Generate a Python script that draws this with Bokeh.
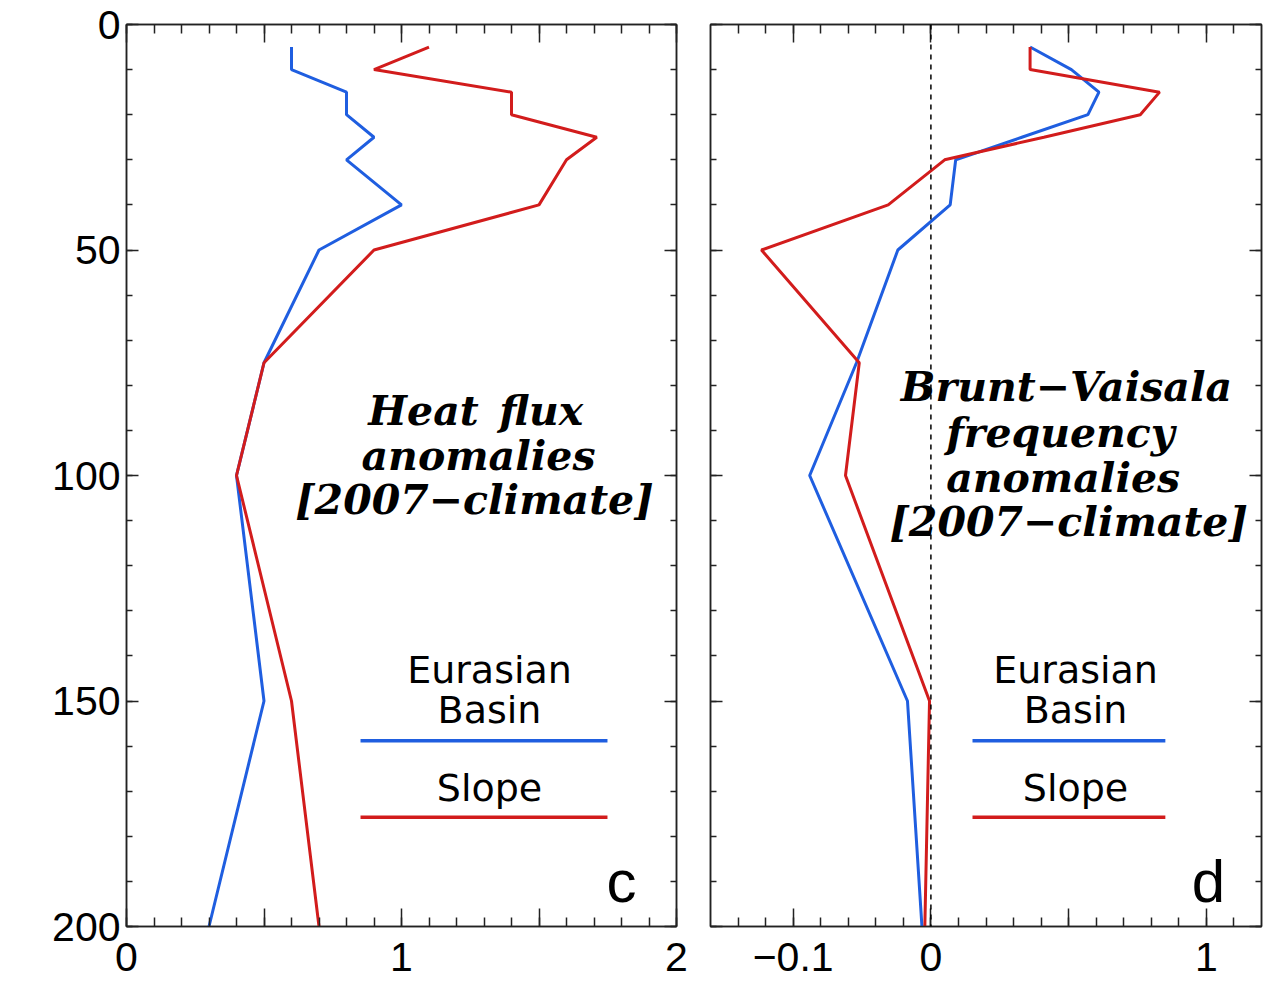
import numpy as np
from bokeh.plotting import figure
from bokeh.models import (Range1d, LinearAxis, FixedTicker, CustomJSTickFormatter, Span, Label,
                          CustomLabelingPolicy)
from bokeh.layouts import row
from bokeh.embed import file_html
from bokeh.resources import INLINE

# ---------------- data ----------------
depth = [5, 10, 15, 20, 25, 30, 40, 50, 75, 100, 150, 200]
# panel c: heat flux anomalies [2007 - climate]
hf_basin = [0.6, 0.6, 0.8, 0.8, 0.9, 0.8, 1.0, 0.7, 0.5, 0.4, 0.5, 0.3]
hf_slope = [1.1, 0.9, 1.4, 1.4, 1.71, 1.6, 1.5, 0.9, 0.5, 0.4, 0.6, 0.7]
# panel d: Brunt-Vaisala frequency anomalies (axis: negative side stretched x5)
bv_basin = [0.36, 0.51, 0.61, 0.57, 0.33, 0.09, 0.07, -0.024, -0.054, -0.088, -0.017, -0.0065]
bv_slope = [0.36, 0.36, 0.83, 0.76, 0.41, 0.05, -0.031, -0.123, -0.052, -0.062, -0.001, -0.0044]

y_major = [0, 50, 100, 150, 200]
y_minor = list(range(0, 201, 10))
c_major = [0, 0.5, 1, 1.5, 2]
c_labels = {0: "0", 1: "1", 2: "2"}
d_major_real = [-0.1, 0, 0.5, 1]
d_labels = {-0.1: "\u22120.1", 0: "0", 1: "1"}

BLUE = "#1f5ee0"
RED = "#d21c1c"
INK = "#222222"
NEG_STRETCH = 5.0


def d_scale(v):
    v = np.asarray(v, dtype=float)
    return np.where(v < 0, v * NEG_STRETCH, v)


def keep_policy(keep):
    return CustomLabelingPolicy(args=dict(keep=keep), code="""
        const n = indices.size;
        for (let i = 0; i < n; i++) {
            if (keep.indexOf(i) < 0) {
                if (typeof indices.unset === "function") indices.unset(i);
                else indices.set(i, false);
            }
        }
        return indices;
    """)


def style_axis(ax, major_in, minor_in, keep):
    ax.major_tick_in = major_in
    ax.major_tick_out = 0
    ax.minor_tick_in = minor_in
    ax.minor_tick_out = 0
    ax.axis_line_color = INK
    ax.axis_line_width = 1.5
    ax.major_tick_line_color = INK
    ax.major_tick_line_width = 1.5
    ax.minor_tick_line_color = INK
    ax.minor_tick_line_width = 1.5
    if keep:
        ax.major_label_text_font = "Liberation Sans"
        ax.major_label_text_font_size = "41px"
        ax.major_label_text_color = "black"
    else:
        ax.major_label_text_font_size = "1px"
        ax.major_label_text_alpha = 0
        ax.major_label_standoff = 0
    ax.major_label_policy = keep_policy(keep)


def fmt(mapping):
    keys = list(mapping.keys())
    vals = [mapping[k] for k in keys]
    return CustomJSTickFormatter(args=dict(keys=keys, vals=vals), code="""
        for (let i = 0; i < keys.length; i++) {
            if (Math.abs(tick - keys[i]) < 1e-6) return vals[i];
        }
        return "";
    """)


def make_fig(width, xr, bl, br, x_ticker, x_minor, x_fmt, x_keep, y_keep):
    p = figure(width=width, height=989, x_range=xr, y_range=Range1d(200, 0),
               x_axis_type=None, y_axis_type=None,
               output_backend="svg", toolbar_location=None,
               min_border_left=bl, min_border_right=br,
               min_border_top=24, min_border_bottom=63)
    p.outline_line_color = INK
    p.outline_line_width = 1.5
    p.background_fill_color = "white"
    p.border_fill_color = "white"
    below = LinearAxis(ticker=FixedTicker(ticks=x_ticker, minor_ticks=x_minor), formatter=x_fmt)
    style_axis(below, 18, 9, x_keep)
    below.major_label_standoff = 16
    p.add_layout(below, "below")
    above = LinearAxis(ticker=FixedTicker(ticks=x_ticker, minor_ticks=x_minor))
    style_axis(above, 18, 9, [])
    p.add_layout(above, "above")
    left = LinearAxis(ticker=FixedTicker(ticks=y_major, minor_ticks=y_minor))
    style_axis(left, 12, 6, y_keep)
    if y_keep:
        left.major_label_standoff = 6
    p.add_layout(left, "left")
    right = LinearAxis(ticker=FixedTicker(ticks=y_major, minor_ticks=y_minor))
    style_axis(right, 12, 6, [])
    p.add_layout(right, "right")
    return p


def add_text(p, x, y, text, font, size, style="normal"):
    p.add_layout(Label(x=x, y=y, text=text, text_font=font, text_font_size=size,
                       text_font_style=style, text_align="center",
                       text_baseline="middle", text_color="black"))


def add_legend(p, xc, x0, x1):
    add_text(p, xc, 143.2, "Eurasian", "DejaVu Sans", "38px")
    add_text(p, xc, 152.0, "Basin", "DejaVu Sans", "38px")
    add_text(p, xc, 169.3, "Slope", "DejaVu Sans", "38px")
    p.segment(x0=[x0], y0=[158.8], x1=[x1], y1=[158.8], line_color=BLUE, line_width=3.5)
    p.segment(x0=[x0], y0=[175.8], x1=[x1], y1=[175.8], line_color=RED, line_width=3.5)


SERIF = "DejaVu Serif"
TS = "41px"

# ---------------- panel c ----------------
c_minor = [round(0.1 * i, 1) for i in range(0, 21)]
p1 = make_fig(693, Range1d(0, 2), 126, 17, c_major, c_minor, fmt(c_labels),
              [0, 2, 4], [0, 1, 2, 3, 4])
p1.line(hf_basin, depth, line_color=BLUE, line_width=3)
p1.line(hf_slope, depth, line_color=RED, line_width=3)
add_text(p1, 1.27, 85.6, "Heat\u2002flux", SERIF, TS, "bold italic")
add_text(p1, 1.28, 95.6, "anomalies", SERIF, TS, "bold italic")
add_text(p1, 1.265, 105.5, "[2007\u2212climate]", SERIF, TS, "bold italic")
add_legend(p1, 1.32, 0.851, 1.749)
add_text(p1, 1.80, 190.0, "c", "Liberation Sans", "60px")

# ---------------- panel d ----------------
d_major = [float(v) for v in d_scale(d_major_real)]
d_minor = [round(-0.7 + 0.1 * i, 1) for i in range(0, 19)]
d_lab_scaled = {float(d_scale([k])[0]): v for k, v in d_labels.items()}
p2 = make_fig(571, Range1d(-0.8, 1.2), 17, 3, d_major, d_minor, fmt(d_lab_scaled),
              [0, 1, 3], [])
p2.add_layout(Span(location=0, dimension="height", line_color="black",
                   line_width=1.5, line_dash="5 5"))
p2.line(d_scale(bv_basin), depth, line_color=BLUE, line_width=3)
p2.line(d_scale(bv_slope), depth, line_color=RED, line_width=3)
add_text(p2, 0.492, 80.3, "Brunt\u2212Vaisala", SERIF, TS, "bold italic")
add_text(p2, 0.47, 90.5, "frequency", SERIF, TS, "bold italic")
add_text(p2, 0.48, 100.5, "anomalies", SERIF, TS, "bold italic")
add_text(p2, 0.50, 110.4, "[2007\u2212climate]", SERIF, TS, "bold italic")
add_legend(p2, 0.525, 0.151, 0.851)
add_text(p2, 1.007, 190.0, "d", "Liberation Sans", "60px")

layout = row(p1, p2, spacing=0)
open("out.html", "w").write(file_html(layout, INLINE))
